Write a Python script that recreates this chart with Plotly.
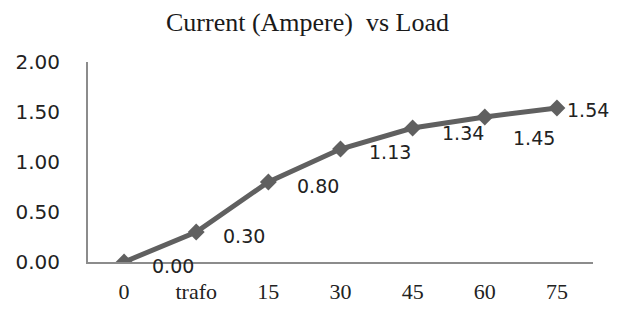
import plotly.graph_objects as go

categories = ["0", "trafo", "15", "30", "45", "60", "75"]
current = [0.00, 0.30, 0.80, 1.13, 1.34, 1.45, 1.54]
label_text = ["0.00", "0.30", "0.80", "1.13", "1.34", "1.45", "1.54"]
y_ticks = [0, 0.5, 1.0, 1.5, 2.0]
y_tick_text = ["0.00", "0.50", "1.00", "1.50", "2.00"]

# label offsets in pixels (x, y-down)
label_offsets = [(49, 4), (48, 4), (50, 4), (49, 3), (50, 5), (49, 21), (31, 2)]

fig = go.Figure()
fig.add_trace(go.Scatter(
    x=categories, y=current, mode="lines+markers",
    line=dict(color="#606060", width=5),
    marker=dict(symbol="diamond", size=13, color="#606060"),
    showlegend=False, hoverinfo="skip",
))

for i, (v, t, (dx, dy)) in enumerate(zip(current, label_text, label_offsets)):
    fig.add_annotation(x=i, y=v, xref="x", yref="y", text=t, showarrow=False,
                       xanchor="center", yanchor="middle",
                       xshift=dx, yshift=-dy,
                       font=dict(family="DejaVu Sans", size=19, color="#222222"))

fig.update_layout(
    width=623, height=309,
    margin=dict(l=88, r=30, t=62, b=47, autoexpand=False),
    paper_bgcolor="white", plot_bgcolor="white",
    title=dict(text="Current (Ampere)  vs Load", x=307.5 / 623, xanchor="center",
               y=1 - 22 / 309, yanchor="middle", automargin=False,
               font=dict(family="Liberation Serif", size=26, color="#1a1a1a")),
)
fig.update_xaxes(
    type="category", range=[-0.5, 6.5], automargin=False,
    showline=True, linecolor="#8c8c8c", linewidth=2,
    showgrid=False, zeroline=False, ticks="",
    ticklabelstandoff=9,
    tickfont=dict(family="Liberation Serif", size=22, color="#222222"),
)
fig.update_yaxes(
    range=[0, 2], tickvals=y_ticks, ticktext=y_tick_text, automargin=False,
    showline=True, linecolor="#8c8c8c", linewidth=2,
    showgrid=False, zeroline=False, ticks="",
    ticklabelstandoff=22,
    tickfont=dict(family="DejaVu Sans", size=20, color="#222222"),
)

fig.write_html("out.html",
               config={"displayModeBar": False, "staticPlot": True},
               post_script="document.body.style.margin='0';document.body.style.overflow='hidden';")
